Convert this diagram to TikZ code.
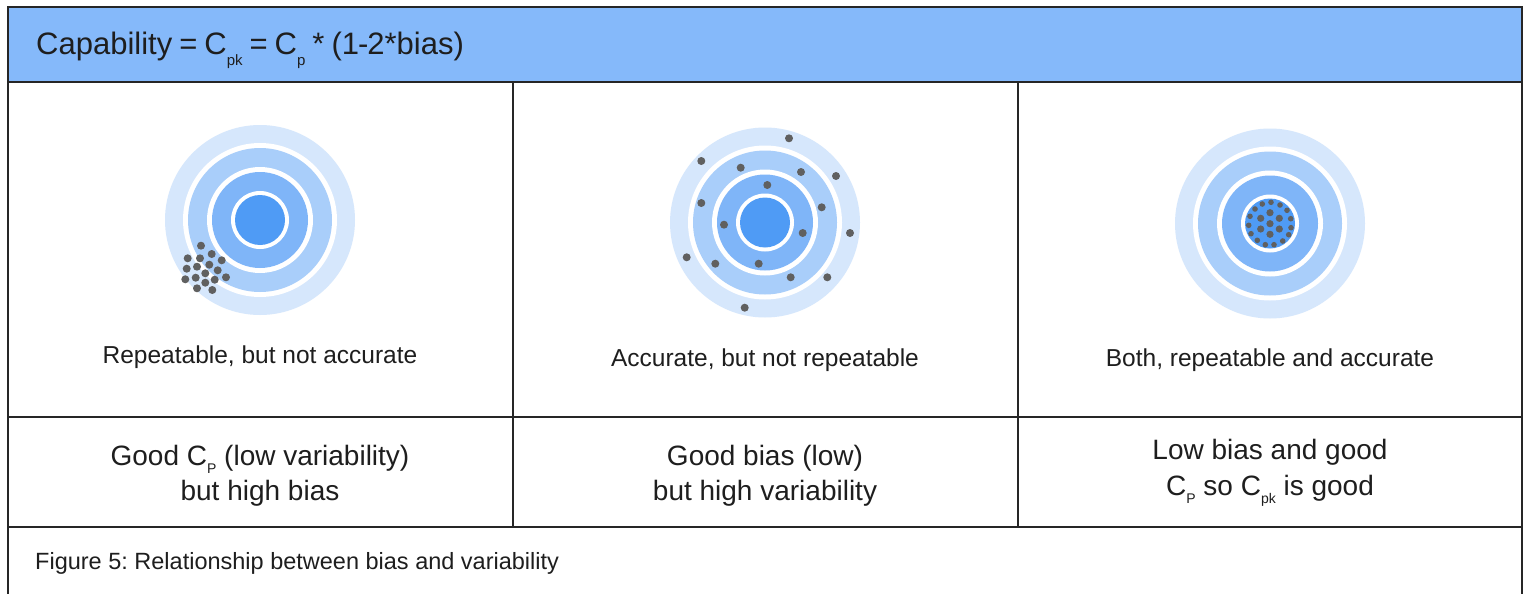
\documentclass[tikz,border=0pt]{standalone}
\usepackage{fontspec}
\setmainfont{Liberation Sans}
\frenchspacing
\definecolor{hdr}{RGB}{133,185,250}
\definecolor{ringA}{RGB}{214,231,252}
\definecolor{ringB}{RGB}{169,206,250}
\definecolor{ringC}{RGB}{127,181,248}
\definecolor{ringD}{RGB}{79,155,245}
\definecolor{dotc}{RGB}{96,96,96}
\definecolor{rule}{RGB}{38,38,38}
\definecolor{txt}{RGB}{30,30,30}
\newcommand\hsub[1]{\raisebox{-11pt}{\fontsize{15pt}{15pt}\selectfont #1}}
\newcommand\rsub[1]{\raisebox{-8pt}{\fontsize{14pt}{14pt}\selectfont #1}}
\newcommand\hsp{\hskip 7pt\relax}
\tikzset{
  gridline/.style={draw=rule, line width=1.8pt},
  divline/.style={draw=rule, line width=1.5pt},
  lbl/.style={anchor=base, inner sep=0pt, text=txt, font=\fontsize{24.5pt}{30pt}\selectfont},
  big/.style={anchor=base, inner sep=0pt, text=txt, font=\fontsize{28pt}{34pt}\selectfont},
  hdrtxt/.style={anchor=base west, inner sep=0pt, text=txt, font=\fontsize{31pt}{40pt}\selectfont},
  captxt/.style={anchor=base west, inner sep=0pt, text=txt, font=\fontsize{23.5pt}{28pt}\selectfont},
  dot/.style={fill=dotc},
}
\newcommand\target[2]{%
  \fill[ringA] (#1,#2) circle[radius=95pt];
  \fill[white] (#1,#2) circle[radius=77pt];
  \fill[ringB] (#1,#2) circle[radius=72pt];
  \fill[white] (#1,#2) circle[radius=53pt];
  \fill[ringC] (#1,#2) circle[radius=48pt];
  \fill[white] (#1,#2) circle[radius=29pt];
  \fill[ringD] (#1,#2) circle[radius=25pt];
}
\begin{document}
\begin{tikzpicture}[x=1pt,y=-1pt]
\useasboundingbox (0,0) rectangle (1529,594);
\fill[white] (0,0) rectangle (1529,594);
% header
\fill[hdr] (8,7) rectangle (1522,82);
\draw[gridline] (8,7) -- (1522,7);
\draw[gridline] (8,82) -- (1522,82);
\draw[gridline] (8,417) -- (1522,417);
\draw[gridline] (8,527) -- (1522,527);
\draw[gridline] (8,6.1) -- (8,594);
\draw[gridline] (1522,6.1) -- (1522,594);
\draw[divline] (513,82) -- (513,527);
\draw[divline] (1018,82) -- (1018,527);
\node[hdrtxt] (title) at (36,55) {Capability\hsp=\hsp C\hsub{pk}\hsp=\hsp C\hsub{p}\hsp*\hsp(1\kern-1pt-\kern-1pt2*bias)};
% targets
\target{260}{220}
\target{765}{222.5}
\target{1270}{223.5}
% dots target 1
\foreach \x/\y in {201/245.7,187.7/258.3,200/258.3,211.7/254,221.7/260.3,186.7/268.7,197/266.7,209.3/264.7,217.7/270.3,226/277.3,185.3/279.3,195.7/277.7,205.3/273.3,214.7/279.7,197/288.3,205.3/282.7,212.3/290}
  \fill[dot] (\x,\y) circle[radius=4pt];
% dots target 2
\foreach \x/\y in {789/138.3,701.3/161,740.7/167.7,801/172,836/176,767.3/185,701.3/203,821.7/207.3,724/224.7,802.7/233,850/233,686.7/257.3,715.3/263.7,758.7/263.7,790.7/277.3,827.3/277.3,744.7/307.7}
  \fill[dot] (\x,\y) circle[radius=4pt];
% dots target 3
\foreach \x/\y in {1270/212.7,1260.7/218.3,1279.3/218.3,1270/223.7,1260.7/229,1279.3/229,1270/234.3}
  \fill[dot] (\x,\y) circle[radius=3.6pt];
\foreach \x/\y in {1262.3/204,1271/202.3,1280/205,1287/210.3,1290.7/218.7,1291/227.7,1288.7/234.7,1282.7/241,1274/244.7,1265.3/244.7,1257.3/240.3,1251/233.7,1248.7/225.3,1250/216.3,1255/209}
  \fill[dot] (\x,\y) circle[radius=2.8pt];
% row 1 labels
\node[lbl] (l1) at (260,363) {Repeatable, but not accurate};
\node[lbl] (l2) at (765,366) {Accurate, but not repeatable};
\node[lbl] (l3) at (1270,366) {Both, repeatable and accurate};
% row 2 labels
\node[big] (m1a) at (260,465) {Good C\rsub{P} (low variability)};
\node[big] (m1b) at (260,500) {but high bias};
\node[big] (m2a) at (765,465) {Good bias (low)};
\node[big] (m2b) at (765,500) {but high variability};
\node[big] (m3a) at (1270,459) {Low bias and good};
\node[big] (m3b) at (1270,495) {C\rsub{P} so C\rsub{pk} is good};
% caption
\node[captxt] (cap) at (35,569) {Figure 5: Relationship between bias and variability};
\end{tikzpicture}
\end{document}
